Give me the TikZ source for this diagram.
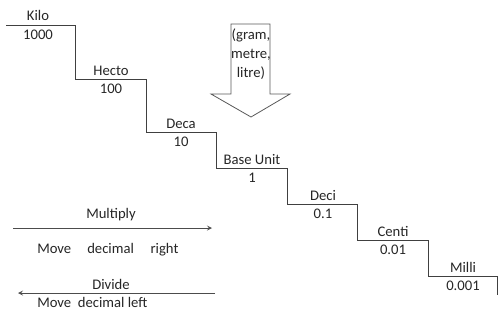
\documentclass[tikz,border=0pt]{standalone}
\usepackage{fontspec}
\setmainfont{Carlito}
\usetikzlibrary{positioning}

\begin{document}
\begin{tikzpicture}[
  x=0.75pt, y=-0.75pt,
  unitname/.style={font=\fontsize{11}{13}\selectfont, text=black!85, inner sep=0pt},
  unitval/.style={font=\fontsize{11}{13}\selectfont, text=black!85, inner sep=0pt},
  note/.style={font=\fontsize{11}{13}\selectfont, text=black!85, inner sep=0pt, anchor=base},
  stair/.style={line width=0.65pt, black!75},
  bigarrow/.style={line width=0.6pt, black!65, fill=white},
  >=stealth
]
\useasboundingbox (0,0) rectangle (498,322);

% Staircase corners
\coordinate (kilo-l) at (6,25);
\coordinate (kilo-r) at (75,25);
\coordinate (hecto-r) at (146,79);
\coordinate (deca-r) at (216,132);
\coordinate (base-r) at (287,168);
\coordinate (deci-r) at (357,204);
\coordinate (centi-r) at (428,240);
\coordinate (milli-r) at (497,276);
\coordinate (milli-end) at (497,295);

\draw[stair] (kilo-l) -- (kilo-r) |- (hecto-r) |- (deca-r) |- (base-r)
  |- (deci-r) |- (centi-r) |- (milli-r) -- (milli-end);

% Step middles
\coordinate (kilo-m) at (38,25);
\coordinate (hecto-m) at (111,79);
\coordinate (deca-m) at (181,132);
\coordinate (base-m) at (252,168);
\coordinate (deci-m) at (323,204);
\coordinate (centi-m) at (393,240);
\coordinate (milli-m) at (463,276);

% Unit names and factors
\node[unitname, above=3pt of kilo-m] (kilo) {Kilo};
\node[unitval, below=3.5pt of kilo-m] (kilo-val) {1000};
\node[unitname, above=2.5pt of hecto-m] (hecto) {Hecto};
\node[unitval, below=3.5pt of hecto-m] (hecto-val) {100};
\node[unitname, above=2.5pt of deca-m] (deca) {Deca};
\node[unitval, below=3.5pt of deca-m] (deca-val) {10};
\node[unitname, above=2.5pt of base-m] (base) {Base Unit};
\node[unitval, below=3.5pt of base-m] (base-val) {1};
\node[unitname, above=2.5pt of deci-m] (deci) {Deci};
\node[unitval, below=3.5pt of deci-m] (deci-val) {0.1};
\node[unitname, above=2.5pt of centi-m] (centi) {Centi};
\node[unitval, below=3.5pt of centi-m] (centi-val) {0.01};
\node[unitname, above=2.5pt of milli-m] (milli) {Milli};
\node[unitval, below=3.5pt of milli-m] (milli-val) {0.001};

% Base unit arrow
\draw[bigarrow] (231,24) -- (270,24) -- (270,94) -- (290,94) -- (251,117)
  -- (211,94) -- (231,94) -- cycle;
\node[unitname, align=center, font=\fontsize{11}{14}\selectfont] (base-info) at (251,54)
  {(gram,\\metre,\\litre)};

% Multiply / divide
\coordinate (mul-l) at (13,228);
\coordinate (mul-r) at (212,228);
\coordinate (div-l) at (18,293);
\coordinate (div-r) at (215,293);
\draw[->, line width=0.65pt, black!70] (mul-l) -- (mul-r);
\draw[->, line width=0.65pt, black!70] (div-r) -- (div-l);

\node[note] (multiply) at (111,218) {Multiply};
\node[note, anchor=base west] (mul-text) at (37,253)
  {Move\hspace{12pt}decimal\hspace{12.5pt}right};
\node[note] (divide) at (111,289) {Divide};
\node[note, anchor=base west] (div-text) at (37,307) {Move\ \ decimal left};

\end{tikzpicture}
\end{document}
